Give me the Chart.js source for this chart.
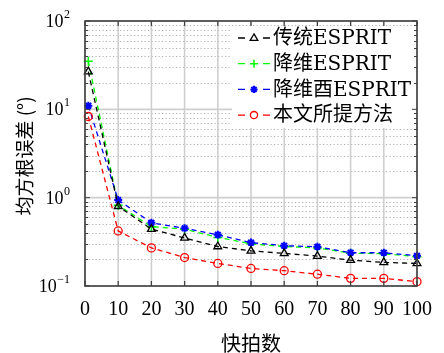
<!DOCTYPE html>
<html><head><meta charset="utf-8">
<script src="https://cdn.jsdelivr.net/npm/chart.js@4/dist/chart.umd.min.js"></script>
<style>html,body{margin:0;padding:0;background:#fff;}canvas{display:block;}</style>
</head><body>
<canvas id="c" width="444" height="353"></canvas>
<script>
// ---- data ----
const snapshots = [1, 10, 20, 30, 40, 50, 60, 70, 80, 90, 100];
const seriesLabels = ['传统ESPRIT', '降维ESPRIT', '降维酉ESPRIT', '本文所提方法'];
const traditionalESPRIT = [26.7, 0.80, 0.44, 0.35, 0.28, 0.25, 0.234, 0.218, 0.196, 0.185, 0.18];
const reducedESPRIT     = [35.0, 0.82, 0.47, 0.44, 0.355, 0.30, 0.28, 0.27, 0.235, 0.232, 0.215];
const reducedUnitary    = [11.0, 0.94, 0.52, 0.45, 0.38, 0.31, 0.286, 0.278, 0.238, 0.238, 0.22];
const proposedMethod    = [8.3, 0.42, 0.27, 0.21, 0.18, 0.158, 0.149, 0.136, 0.122, 0.122, 0.112];
const xTickValues = [0, 10, 20, 30, 40, 50, 60, 70, 80, 90, 100];
const yDecades = [0.1, 1, 10, 100];
const yTickBase = ['10', '10', '10', '10'];
const yTickExponents = ['\u22121', '0', '1', '2'];
const xTitle = '快拍数';
const yTitle = '均方根误差 (°)';

const SERIF = "'Liberation Serif','Noto Sans CJK SC',serif";
const LEGEND_FONT = "'DejaVu Serif','Noto Sans CJK SC',serif";
const CJK = "'Noto Sans CJK SC',sans-serif";

function pts(vals) { return snapshots.map((x, i) => ({x: x, y: vals[i]})); }

const styles = [
  {color: '#000000', point: 'triangle', r: 4.5, bw: 1.3, order: 1},
  {color: '#00ff00', point: 'cross', r: 4.5, bw: 1.5, order: 3},
  {color: '#0000ff', point: 'star', r: 4, bw: 2, order: 2},
  {color: '#ff0000', point: 'circle', r: 4, bw: 1.3, order: 0}
];
const allSeries = [traditionalESPRIT, reducedESPRIT, reducedUnitary, proposedMethod];

const datasets = allSeries.map((vals, i) => ({
  label: seriesLabels[i],
  data: pts(vals),
  borderColor: styles[i].color,
  backgroundColor: 'rgba(0,0,0,0)',
  borderDash: [5, 4],
  borderWidth: 1.3,
  pointStyle: styles[i].point,
  pointRadius: styles[i].r,
  pointBorderWidth: styles[i].bw,
  pointBorderColor: styles[i].color,
  pointBackgroundColor: styles[i].point === 'star' ? styles[i].color : 'rgba(0,0,0,0)',
  tension: 0,
  clip: false,
  order: styles[i].order
}));

function drawMarker(ctx, style, r, x, y, color, bw) {
  ctx.save();
  ctx.setLineDash([]);
  ctx.strokeStyle = color; ctx.fillStyle = color; ctx.lineWidth = bw;
  ctx.beginPath();
  if (style === 'triangle') {
    ctx.moveTo(x, y - r);
    ctx.lineTo(x + r * 0.95, y + r * 0.6);
    ctx.lineTo(x - r * 0.95, y + r * 0.6);
    ctx.closePath(); ctx.stroke();
  } else if (style === 'cross') {
    ctx.moveTo(x - r, y); ctx.lineTo(x + r, y);
    ctx.moveTo(x, y - r); ctx.lineTo(x, y + r); ctx.stroke();
  } else if (style === 'star') {
    for (let k = 0; k < 4; k++) {
      const a = k * Math.PI / 4;
      ctx.moveTo(x - r * Math.cos(a), y - r * Math.sin(a));
      ctx.lineTo(x + r * Math.cos(a), y + r * Math.sin(a));
    }
    ctx.stroke();
  } else {
    ctx.arc(x, y, r, 0, Math.PI * 2); ctx.stroke();
  }
  ctx.restore();
}

const decor = {
  id: 'decor',
  beforeDatasetsDraw(chart) {
    const {ctx, chartArea: a, scales: {x, y}} = chart;
    ctx.save();
    // minor dotted y grid
    ctx.strokeStyle = '#b0b0b0'; ctx.lineWidth = 1; ctx.setLineDash([1.2, 2.3]);
    for (let d = 0; d < yDecades.length - 1; d++) {
      for (let m = 2; m <= 9; m++) {
        const py = Math.round(y.getPixelForValue(m * yDecades[d])) + 0.5;
        ctx.beginPath(); ctx.moveTo(a.left, py); ctx.lineTo(a.right, py); ctx.stroke();
      }
    }
    // major grid
    ctx.setLineDash([]); ctx.strokeStyle = '#cfcfcf'; ctx.lineWidth = 1.6;
    yDecades.forEach(v => {
      const py = y.getPixelForValue(v);
      ctx.beginPath(); ctx.moveTo(a.left, py); ctx.lineTo(a.right, py); ctx.stroke();
    });
    xTickValues.forEach(v => {
      const px = x.getPixelForValue(v);
      ctx.beginPath(); ctx.moveTo(px, a.top); ctx.lineTo(px, a.bottom); ctx.stroke();
    });
    ctx.restore();
  },
  afterDatasetsDraw(chart) {
    const {ctx, chartArea: a, scales: {x, y}} = chart;
    ctx.save();
    // legend
    ctx.fillStyle = '#ffffff';
    ctx.fillRect(232, 26, 184, 102);
    chart.data.datasets.forEach((ds, i) => {
      const ry = 38 + i * 25.7;
      ctx.strokeStyle = ds.borderColor; ctx.lineWidth = 1.3; ctx.setLineDash([]);
      ctx.beginPath();
      ctx.moveTo(238, ry); ctx.lineTo(245, ry);
      ctx.moveTo(263, ry); ctx.lineTo(270, ry);
      ctx.stroke();
      drawMarker(ctx, ds.pointStyle, ds.pointRadius * 0.9, 254, ry, ds.borderColor, ds.pointBorderWidth);
      ctx.fillStyle = '#000'; ctx.font = '20px ' + LEGEND_FONT;
      ctx.textAlign = 'left'; ctx.textBaseline = 'middle';
      ctx.fillText(ds.label, 273, ry + 1);
    });
    // frame
    ctx.setLineDash([]);
    ctx.strokeStyle = '#404040'; ctx.lineWidth = 1.6;
    ctx.strokeRect(a.left, a.top, a.right - a.left, a.bottom - a.top);
    // tick marks
    ctx.lineWidth = 1.2; ctx.strokeStyle = '#404040';
    xTickValues.forEach(v => {
      const px = x.getPixelForValue(v);
      ctx.beginPath();
      ctx.moveTo(px, a.bottom); ctx.lineTo(px, a.bottom - 5);
      ctx.moveTo(px, a.top); ctx.lineTo(px, a.top + 5);
      ctx.stroke();
    });
    ctx.lineWidth = 1;
    for (let d = 0; d < yDecades.length; d++) {
      const py = y.getPixelForValue(yDecades[d]);
      ctx.beginPath();
      ctx.moveTo(a.left, py); ctx.lineTo(a.left + 5, py);
      ctx.moveTo(a.right, py); ctx.lineTo(a.right - 5, py);
      ctx.stroke();
      if (d < yDecades.length - 1) {
        for (let m = 2; m <= 9; m++) {
          const pm = Math.round(y.getPixelForValue(m * yDecades[d])) + 0.5;
          ctx.beginPath();
          ctx.moveTo(a.left, pm); ctx.lineTo(a.left + 3, pm);
          ctx.moveTo(a.right, pm); ctx.lineTo(a.right - 3, pm);
          ctx.stroke();
        }
      }
    }
    // y tick labels with superscripts
    ctx.fillStyle = '#000';
    yDecades.forEach((v, i) => {
      const py = y.getPixelForValue(v);
      ctx.font = '12px ' + SERIF;
      const ew = ctx.measureText(yTickExponents[i]).width;
      const right = 70;
      ctx.textAlign = 'left'; ctx.textBaseline = 'alphabetic';
      ctx.fillText(yTickExponents[i], right - ew, py - 3);
      ctx.font = '18px ' + SERIF;
      ctx.textAlign = 'right';
      ctx.fillText(yTickBase[i], right - ew - 0.5, py + 6);
    });
    // y axis title
    ctx.save();
    ctx.translate(25, 156);
    ctx.rotate(-Math.PI / 2);
    ctx.font = '19px ' + CJK;
    ctx.textAlign = 'center'; ctx.textBaseline = 'middle';
    ctx.fillText(yTitle, 0, 0);
    ctx.restore();
    ctx.restore();
  }
};

new Chart(document.getElementById('c'), {
  type: 'line',
  data: {datasets: datasets},
  options: {
    responsive: false,
    animation: false,
    devicePixelRatio: 1,
    layout: {padding: {left: 0, right: 21, top: 21, bottom: 0}},
    plugins: {legend: {display: false}, tooltip: {enabled: false}},
    scales: {
      x: {
        type: 'linear', min: 0, max: 100,
        afterBuildTicks: s => { s.ticks = xTickValues.map(v => ({value: v})); },
        afterFit: s => { s.height = 67; },
        grid: {display: false, drawTicks: false},
        border: {display: false},
        ticks: {color: '#000', font: {family: SERIF, size: 20}, padding: 12, maxRotation: 0, autoSkip: false},
        title: {display: true, text: xTitle, color: '#000', font: {family: CJK, size: 20, lineHeight: 1}, padding: {top: 0, bottom: 0}}
      },
      y: {
        type: 'logarithmic', min: 0.1, max: 100,
        afterFit: s => { s.width = 85; },
        grid: {display: false, drawTicks: false},
        border: {display: false},
        ticks: {display: false},
        title: {display: false}
      }
    }
  },
  plugins: [decor]
});
</script>
</body></html>
